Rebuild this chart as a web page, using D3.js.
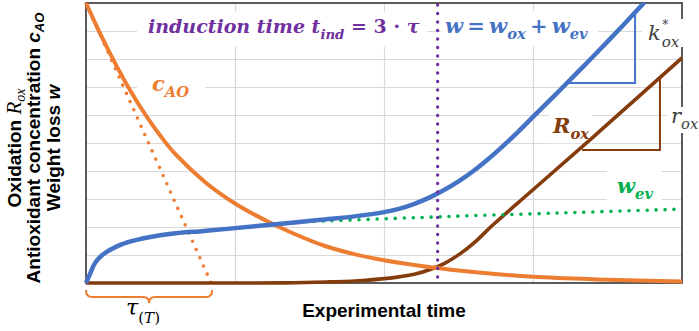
<!DOCTYPE html>
<html><head><meta charset="utf-8">
<script src="https://cdn.jsdelivr.net/npm/d3@7"></script>
<style>body{margin:0;background:#fff}svg{display:block}</style>
</head><body>
<svg id="chart" width="699" height="331"></svg>
<script>
// ---- data (arbitrary units: time 0..4, signal 0..10) ----
const xTicks = [0, 1, 2, 3, 4];
const yTicks = [0, 1, 2, 3, 4, 5, 6, 7, 8, 9, 10];

const tCao = [0, 0.1, 0.2, 0.3, 0.4, 0.5, 0.6, 0.8, 1.0, 1.2, 1.4, 1.6, 1.8, 2.0, 2.3, 2.6, 3.0, 3.5, 4.0];
const cAO  = [10, 8.85, 7.8, 6.85, 6.0, 5.25, 4.6, 3.6, 2.84, 2.25, 1.75, 1.33, 1.03, 0.81, 0.57, 0.39, 0.22, 0.12, 0.05];

const tauT = 0.84;
const tangentT = [0, tauT];
const tangentV = [10, 0];

const tW     = [0, 0.03, 0.06, 0.11, 0.23, 0.34, 0.56, 0.79, 1.0, 1.2, 1.4, 1.6, 1.8, 2.0, 2.1, 2.2, 2.3, 2.4, 2.5, 2.6, 2.7, 2.8, 2.9, 3.0, 3.1, 3.2, 3.3, 3.4, 3.5, 3.6, 3.7, 3.8];
const wTotal = [0, 0.36, 0.71, 1.0, 1.36, 1.54, 1.75, 1.86, 1.96, 2.06, 2.16, 2.27, 2.38, 2.53, 2.65, 2.82, 3.04, 3.31, 3.63, 4.0, 4.43, 4.9, 5.4, 5.93, 6.46, 6.99, 7.53, 8.07, 8.62, 9.18, 9.75, 10.33];

const tEv = [1.35, 1.64, 2.09, 2.36, 2.51, 3.18, 4.0];
const wEv = [2.16, 2.22, 2.31, 2.36, 2.39, 2.5, 2.64];

const tR  = [0, 1.1, 1.4, 1.64, 1.86, 2.09, 2.21, 2.31, 2.41, 2.51, 2.61, 2.73, 3.0, 3.45, 4.0];
const rOx = [0, 0, 0.01, 0.04, 0.09, 0.21, 0.32, 0.48, 0.71, 1.04, 1.46, 2.07, 3.33, 5.43, 8.04];

const tInd = 2.36;

const triWT = [3.685, 3.685, 3.228];
const triWV = [9.65, 7.14, 7.14];
const triRT = [3.852, 3.852, 3.33];
const triRV = [7.3, 4.75, 4.75];

// ---- layout ----
const svg = d3.select('#chart');
const L = 86, R = 682, T = 3, B = 283;
const x = d3.scaleLinear().domain([0, 4]).range([L, R]);
const y = d3.scaleLinear().domain([0, 10]).range([B, T]);

const C = {orange:'#ED7D31', blue:'#4472C4', brown:'#843C0C', green:'#00B050', purple:'#7030A0', gray:'#404040'};

// gridlines through axes
const gx = svg.append('g').attr('transform', `translate(0,${B})`)
  .call(d3.axisBottom(x).tickValues(xTicks.slice(1, -1)).tickSize(-(B - T)).tickFormat(''));
const gy = svg.append('g').attr('transform', `translate(${L},0)`)
  .call(d3.axisLeft(y).tickValues(yTicks.slice(1, -1)).tickSize(-(R - L)).tickFormat(''));
[gx, gy].forEach(g => { g.select('.domain').remove(); g.selectAll('line').attr('stroke', '#d9d9d9').attr('stroke-width', 1.2); });

// frame
svg.append('rect').attr('x', L).attr('y', T).attr('width', R - L).attr('height', B - T)
  .attr('fill', 'none').attr('stroke', '#262626').attr('stroke-width', 1.5);

const boxLayer = svg.append('g');
const curveLayer = svg.append('g');
const textLayer = svg.append('g');

svg.append('defs').append('clipPath').attr('id', 'plotclip')
  .append('rect').attr('x', L - 3).attr('y', T).attr('width', R - L + 6).attr('height', B - T + 3);
curveLayer.attr('clip-path', 'url(#plotclip)');

const line = d3.line().x(d => x(d[0])).y(d => y(d[1])).curve(d3.curveCatmullRom.alpha(0.5));
const lineStraight = d3.line().x(d => x(d[0])).y(d => y(d[1]));
const zip = (a, b) => a.map((v, i) => [v, b[i]]);

// tangent (dotted)
curveLayer.append('path').attr('d', lineStraight(zip(tangentT, tangentV)))
  .attr('fill', 'none').attr('stroke', C.orange).attr('stroke-width', 3.6)
  .attr('stroke-dasharray', '0 9').attr('stroke-linecap', 'round');

// R_ox
curveLayer.append('path').attr('d', line(zip(tR, rOx)))
  .attr('fill', 'none').attr('stroke', C.brown).attr('stroke-width', 3.6);
// c_AO
curveLayer.append('path').attr('d', line(zip(tCao, cAO)))
  .attr('fill', 'none').attr('stroke', C.orange).attr('stroke-width', 4);
// w_ev dotted
curveLayer.append('path').attr('d', line(zip(tEv, wEv)))
  .attr('fill', 'none').attr('stroke', C.green).attr('stroke-width', 3.6)
  .attr('stroke-dasharray', '0 9').attr('stroke-linecap', 'round');
// w total
curveLayer.append('path').attr('d', line(zip(tW, wTotal)))
  .attr('fill', 'none').attr('stroke', C.blue).attr('stroke-width', 4.5);

// slope triangles
curveLayer.append('path').attr('d', lineStraight(zip(triWT, triWV)))
  .attr('fill', 'none').attr('stroke', C.blue).attr('stroke-width', 2);
curveLayer.append('path').attr('d', lineStraight(zip(triRT, triRV)))
  .attr('fill', 'none').attr('stroke', C.brown).attr('stroke-width', 2);

// induction time line
curveLayer.append('line').attr('x1', x(tInd)).attr('x2', x(tInd)).attr('y1', y(10) + 2).attr('y2', y(0))
  .attr('stroke', C.purple).attr('stroke-width', 3.4).attr('stroke-dasharray', '0 8.5').attr('stroke-linecap', 'round');

// ---- math labels ----
const SERIF = "'DejaVu Serif', 'Liberation Serif', serif";
function mathLabel(px, py, parts, opt) {
  const size = opt.size;
  const t = textLayer.append('text').attr('x', px).attr('y', py)
    .attr('font-family', opt.family || SERIF).attr('font-size', size)
    .attr('font-style', 'italic').attr('font-weight', opt.weight || 'bold').attr('fill', opt.color);
  let shift = 0;
  parts.forEach(p => {
    const target = p.sub ? size * 0.3 : 0;
    const s = t.append('tspan').text(p.s).attr('dy', target - shift);
    if (p.sub) s.attr('font-size', size * 0.7);
    if (p.upright) s.attr('font-style', 'normal');
    shift = target;
  });
  if (opt.box) {
    const bb = t.node().getBBox();
    const [pl, pt, pr, pb] = opt.box;
    boxLayer.append('rect').attr('x', bb.x - pl).attr('y', bb.y - pt)
      .attr('width', bb.width + pl + pr).attr('height', bb.height + pt + pb).attr('fill', '#fff');
  }
  return t;
}

mathLabel(148, 33, [{s:'induction time '}, {s:'t'}, {s:'ind', sub:true}, {s:' = 3 · ', upright:true}, {s:'τ'}],
  {size:19, color:C.purple, box:[11, 3, 8, 5]});
mathLabel(445, 33, [{s:'w'}, {s:'\u2009=\u2009', upright:true}, {s:'w'}, {s:'ox', sub:true}, {s:'\u2009+\u2009', upright:true}, {s:'w'}, {s:'ev', sub:true}],
  {size:21, color:C.blue, box:[4, 2, 10, 4]});
mathLabel(152, 91, [{s:'c'}, {s:'AO', sub:true}], {size:21, color:C.orange, box:[15, 10, 16, 6]});
mathLabel(553, 133, [{s:'R'}, {s:'ox', sub:true}], {size:21, color:C.brown, box:[3, 1, 3, 1]});
mathLabel(617, 193, [{s:'w'}, {s:'ev', sub:true}], {size:21, color:C.green, box:[10, 6, 8, 3]});

// k*_ox (one text element: superscript and subscript stacked)
(function () {
  const kx = 648;
  const t = textLayer.append('text').attr('x', kx).attr('y', 40)
    .attr('font-family', SERIF).attr('font-size', 21).attr('font-style', 'italic').attr('fill', C.gray);
  const k = t.append('tspan').text('k');
  const kw = k.node().getComputedTextLength();
  t.append('tspan').text('*').attr('font-size', 12).attr('font-style', 'normal').attr('dx', 1.5).attr('dy', -11);
  t.append('tspan').text('ox').attr('font-size', 15).attr('x', kx + kw + 1).attr('dy', 18);
  const bb = t.node().getBBox();
  boxLayer.append('rect').attr('x', bb.x - 6).attr('y', 19).attr('width', 699 - bb.x + 6).attr('height', 28).attr('fill', '#fff');
})();
// r_ox
(function () {
  const r = mathLabel(671, 123, [{s:'r'}, {s:'ox', sub:true}], {size:21, color:C.gray, weight:'normal'});
  const bb = r.node().getBBox();
  boxLayer.append('rect').attr('x', bb.x - 4).attr('y', 107).attr('width', 699 - bb.x + 4).attr('height', 26).attr('fill', '#fff');
})();

// ---- brace & tau ----
const bx0 = x(0), bx1 = x(tauT) + 1, bm = (bx0 + bx1) / 2, by = 297;
svg.append('path')
  .attr('d', `M${bx0},290 Q${bx0},${by} ${bx0 + 6},${by} L${bm - 6},${by} Q${bm},${by} ${bm},${by + 6} Q${bm},${by} ${bm + 6},${by} L${bx1 - 6},${by} Q${bx1},${by} ${bx1},290`)
  .attr('fill', 'none').attr('stroke', C.orange).attr('stroke-width', 2);
const tau = svg.append('text').attr('x', bm - 23).attr('y', 315)
  .attr('font-family', SERIF).attr('font-size', 22).attr('font-style', 'italic').attr('fill', '#000');
tau.append('tspan').text('τ');
tau.append('tspan').text('(').attr('font-size', 15).attr('font-style', 'normal').attr('dy', 8);
tau.append('tspan').text('T').attr('font-size', 15);
tau.append('tspan').text(')').attr('font-size', 15).attr('font-style', 'normal');

// ---- axis titles ----
const SANS = "'Liberation Sans', Arial, sans-serif";
svg.append('text').attr('x', (L + R) / 2).attr('y', 317).attr('text-anchor', 'middle')
  .attr('font-family', SANS).attr('font-weight', 'bold').attr('font-size', 19).attr('fill', '#000')
  .text('Experimental time');

function yTitle(bx, parts) {
  const t = svg.append('text').attr('transform', `translate(${bx},148) rotate(-90)`).attr('text-anchor', 'middle')
    .attr('font-family', SANS).attr('font-weight', 'bold').attr('font-size', 19).attr('fill', '#000');
  parts.forEach(p => {
    const s = t.append('tspan').text(p.s);
    if (p.attrs) Object.entries(p.attrs).forEach(([k, v]) => s.attr(k, v));
  });
}
yTitle(21, [{s:'Oxidation  '},
  {s:'R', attrs:{'font-family':"'Liberation Serif', serif", 'font-style':'italic', 'font-weight':'normal', 'font-size':21}},
  {s:'ox', attrs:{'font-family':"'Liberation Serif', serif", 'font-style':'italic', 'font-weight':'normal', 'font-size':14, dy:4}}]);
yTitle(40, [{s:'Antioxidant concentration '},
  {s:'c', attrs:{'font-style':'italic'}},
  {s:'AO', attrs:{'font-style':'italic', 'font-size':13, dy:4}}]);
yTitle(60, [{s:'Weight loss '}, {s:'w', attrs:{'font-style':'italic'}}]);
</script>
</body></html>
